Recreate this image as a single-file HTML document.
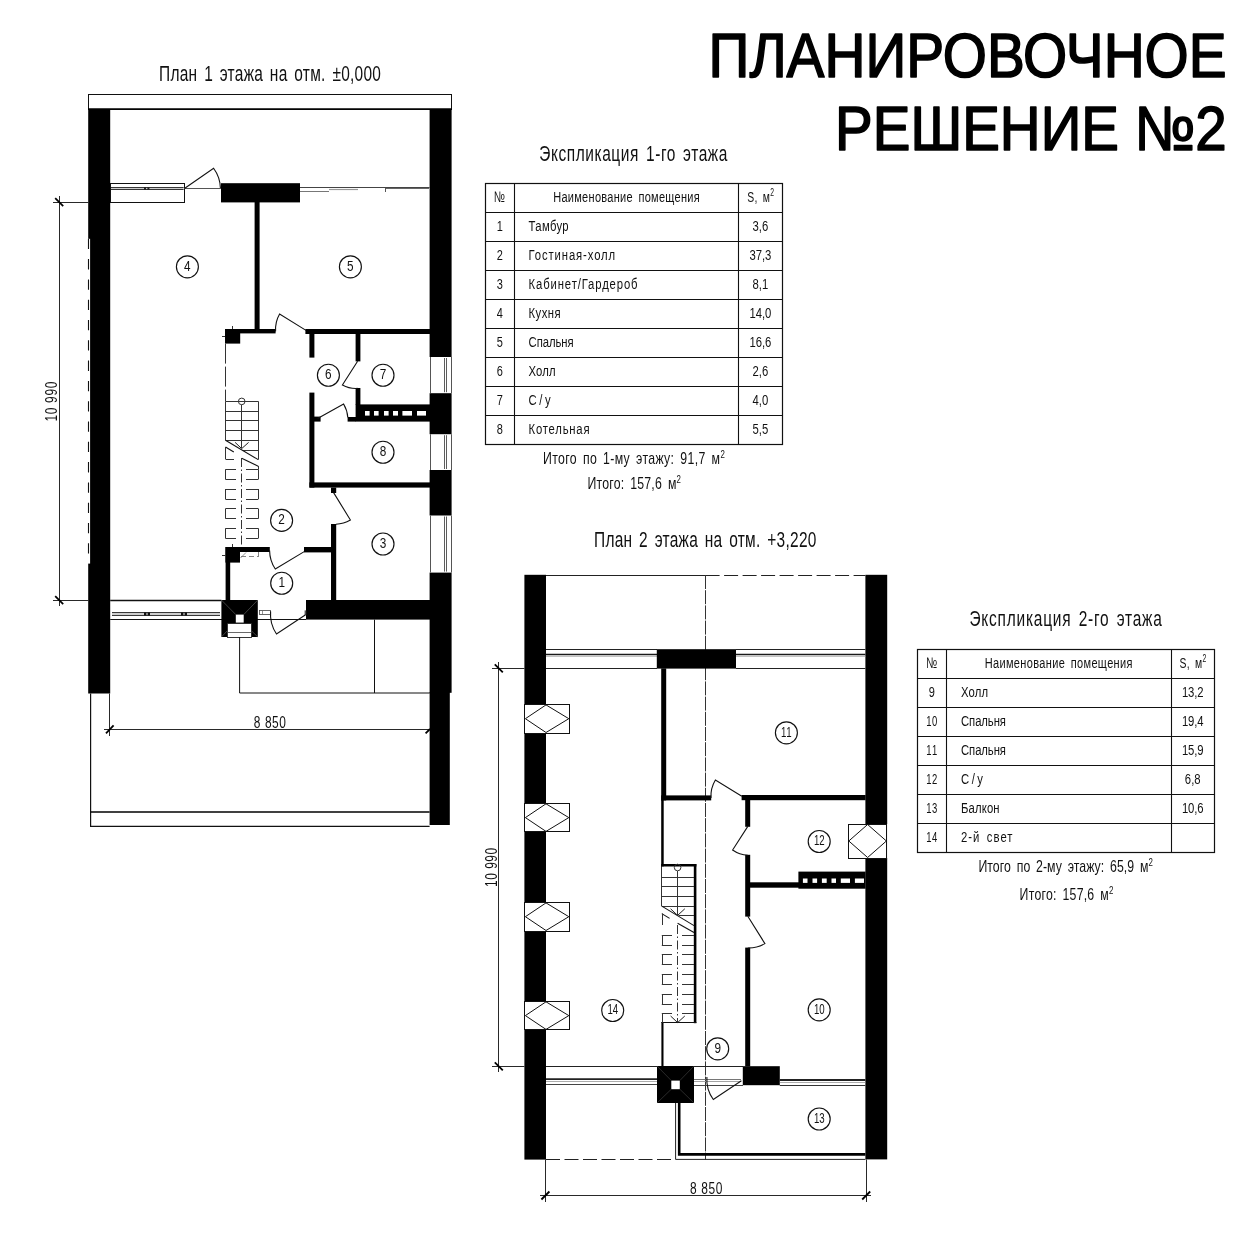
<!DOCTYPE html>
<html lang="ru"><head><meta charset="utf-8"><title>Планировочное решение №2</title>
<style>
html,body{margin:0;padding:0;background:#fff;}
body{width:1250px;height:1250px;overflow:hidden;}
svg{display:block;filter:grayscale(1);}
text{font-family:"Liberation Sans",sans-serif;fill:#111;}
.g{font-family:"Liberation Sans",sans-serif;fill:#111;word-spacing:3px;}
.rn{font-family:"Liberation Sans",sans-serif;fill:#111;}
.big{font-family:"Liberation Sans",sans-serif;fill:#000;stroke:#000;stroke-width:1.6px;stroke-linejoin:round;}
</style></head><body>
<svg width="1250" height="1250" viewBox="0 0 1250 1250" shape-rendering="auto">
<g opacity="0.999">
<rect width="1250" height="1250" fill="#fff"/>
<rect x="88.50" y="94.50" width="363.00" height="15.00" fill="#fff" stroke="#111" stroke-width="1"/>
<line x1="88.00" y1="109.00" x2="451.60" y2="109.00" stroke="#000" stroke-width="1.6"/>
<rect x="88.20" y="109.00" width="22.00" height="584.50" fill="#000" />
<rect x="87.50" y="238.80" width="2.60" height="324.80" fill="#fff" />
<line x1="88.50" y1="238.80" x2="88.50" y2="563.40" stroke="#111" stroke-width="1.1" stroke-dasharray="10.3 10"/>
<rect x="429.60" y="109.00" width="22.00" height="583.80" fill="#000" />
<rect x="429.60" y="692.00" width="20.20" height="133.00" fill="#000" />
<rect x="429.00" y="357.00" width="23.20" height="36.20" fill="#fff" />
<line x1="430.50" y1="357.00" x2="430.50" y2="393.20" stroke="#555" stroke-width="1"/>
<line x1="451.50" y1="357.00" x2="451.50" y2="393.20" stroke="#555" stroke-width="1"/>
<line x1="444.50" y1="358.00" x2="444.50" y2="392.20" stroke="#333" stroke-width="0.8"/>
<line x1="446.50" y1="358.00" x2="446.50" y2="392.20" stroke="#333" stroke-width="0.8"/>
<rect x="429.00" y="434.20" width="23.20" height="35.80" fill="#fff" />
<line x1="430.50" y1="434.20" x2="430.50" y2="470.00" stroke="#555" stroke-width="1"/>
<line x1="451.50" y1="434.20" x2="451.50" y2="470.00" stroke="#555" stroke-width="1"/>
<line x1="444.50" y1="435.20" x2="444.50" y2="469.00" stroke="#333" stroke-width="0.8"/>
<line x1="446.50" y1="435.20" x2="446.50" y2="469.00" stroke="#333" stroke-width="0.8"/>
<rect x="429.00" y="515.50" width="23.20" height="57.10" fill="#fff" />
<line x1="430.50" y1="515.50" x2="430.50" y2="572.60" stroke="#555" stroke-width="1"/>
<line x1="451.50" y1="515.50" x2="451.50" y2="572.60" stroke="#555" stroke-width="1"/>
<line x1="444.50" y1="516.50" x2="444.50" y2="571.60" stroke="#333" stroke-width="0.8"/>
<line x1="446.50" y1="516.50" x2="446.50" y2="571.60" stroke="#333" stroke-width="0.8"/>
<rect x="110.50" y="183.50" width="74.00" height="19.00" fill="#fff" stroke="#111" stroke-width="1"/>
<rect x="111.00" y="187.40" width="72.60" height="2.20" fill="#ccc" />
<line x1="111.00" y1="187.50" x2="183.60" y2="187.50" stroke="#222" stroke-width="0.9"/>
<line x1="111.00" y1="189.50" x2="183.60" y2="189.50" stroke="#222" stroke-width="0.9"/>
<rect x="144.00" y="187.00" width="2.00" height="3.00" fill="#222" />
<rect x="147.40" y="187.00" width="2.00" height="3.00" fill="#222" />
<line x1="184.50" y1="188.50" x2="221.00" y2="188.50" stroke="#555" stroke-width="1"/>
<path d="M184.80 188.20 L213.60 168.20 A35.33 35.33 0 0 1 220.40 188.00" fill="none" stroke="#111" stroke-width="1.1" stroke-linejoin="miter"/>
<rect x="221.00" y="183.20" width="79.00" height="19.20" fill="#000" />
<line x1="300.00" y1="187.50" x2="429.60" y2="187.50" stroke="#444" stroke-width="1.2"/>
<line x1="300.00" y1="191.50" x2="329.00" y2="191.50" stroke="#777" stroke-width="1"/>
<line x1="329.00" y1="189.50" x2="358.00" y2="189.50" stroke="#999" stroke-width="1.2"/>
<line x1="385.00" y1="188.50" x2="429.00" y2="188.50" stroke="#666" stroke-width="1.2"/>
<line x1="385.50" y1="188.00" x2="385.50" y2="192.00" stroke="#555" stroke-width="1"/>
<rect x="254.60" y="202.00" width="5.00" height="131.00" fill="#000" />
<rect x="225.00" y="329.00" width="15.20" height="14.60" fill="#000" />
<line x1="222.00" y1="336.50" x2="225.00" y2="336.50" stroke="#333" stroke-width="1"/>
<line x1="232.50" y1="326.00" x2="232.50" y2="329.00" stroke="#333" stroke-width="1"/>
<rect x="225.00" y="329.00" width="50.60" height="4.40" fill="#000" />
<path d="M306.00 330.40 L279.60 314.00 A30.75 30.75 0 0 0 275.60 331.40" fill="none" stroke="#111" stroke-width="1.1" stroke-linejoin="miter"/>
<rect x="305.40" y="329.00" width="124.60" height="5.00" fill="#000" />
<rect x="309.40" y="334.00" width="5.00" height="23.60" fill="#000" />
<rect x="309.40" y="392.60" width="5.00" height="95.00" fill="#000" />
<rect x="355.60" y="334.00" width="4.80" height="27.40" fill="#000" />
<rect x="355.60" y="388.00" width="4.80" height="17.00" fill="#000" />
<path d="M357.60 361.20 L342.40 385.00 A27.72 27.72 0 0 0 357.60 388.40" fill="none" stroke="#111" stroke-width="1.1" stroke-linejoin="miter"/>
<rect x="355.60" y="404.40" width="74.40" height="17.20" fill="#000" />
<rect x="347.60" y="417.00" width="8.40" height="4.60" fill="#000" />
<rect x="365.00" y="411.00" width="4.60" height="4.60" fill="#fff" />
<rect x="374.00" y="411.00" width="4.60" height="4.60" fill="#fff" />
<rect x="384.00" y="411.00" width="4.60" height="4.60" fill="#fff" />
<rect x="393.00" y="411.00" width="5.00" height="4.60" fill="#fff" />
<rect x="402.40" y="411.00" width="9.60" height="4.60" fill="#fff" />
<rect x="417.00" y="411.00" width="9.00" height="4.60" fill="#fff" />
<rect x="314.00" y="416.60" width="6.60" height="5.00" fill="#000" />
<path d="M317.60 418.60 L343.60 404.00 A30.02 30.02 0 0 1 347.80 417.40" fill="none" stroke="#111" stroke-width="1.1" stroke-linejoin="miter"/>
<rect x="309.40" y="482.40" width="120.60" height="5.20" fill="#000" />
<rect x="331.00" y="487.60" width="5.20" height="5.40" fill="#000" />
<path d="M333.60 492.60 L350.40 520.00 A31.92 31.92 0 0 1 336.00 524.20" fill="none" stroke="#111" stroke-width="1.1" stroke-linejoin="miter"/>
<rect x="331.00" y="524.00" width="5.20" height="76.40" fill="#000" />
<rect x="225.60" y="547.00" width="44.20" height="5.00" fill="#000" />
<rect x="304.00" y="547.00" width="27.40" height="5.40" fill="#000" />
<path d="M304.20 551.60 L275.30 569.00 A34.18 34.18 0 0 1 269.60 550.40" fill="none" stroke="#111" stroke-width="1.1" stroke-linejoin="miter"/>
<rect x="225.40" y="547.00" width="14.60" height="15.60" fill="#000" />
<line x1="222.00" y1="555.50" x2="225.40" y2="555.50" stroke="#333" stroke-width="1"/>
<line x1="232.50" y1="544.00" x2="232.50" y2="547.00" stroke="#333" stroke-width="1"/>
<rect x="225.60" y="552.00" width="4.60" height="48.40" fill="#000" />
<line x1="241.00" y1="556.50" x2="258.00" y2="556.50" stroke="#666" stroke-width="0.8" stroke-dasharray="5 3"/>
<line x1="258.50" y1="552.00" x2="258.50" y2="557.00" stroke="#666" stroke-width="0.8"/>
<path d="M240.5 558 L246 552.5" fill="none" stroke="#777" stroke-width="0.8" />
<rect x="306.00" y="600.00" width="124.00" height="19.60" fill="#000" />
<line x1="110.20" y1="600.50" x2="221.40" y2="600.50" stroke="#111" stroke-width="1.3"/>
<line x1="110.20" y1="619.50" x2="306.00" y2="619.50" stroke="#111" stroke-width="1.1"/>
<rect x="112.00" y="612.80" width="108.00" height="2.40" fill="#ccc" />
<line x1="112.00" y1="612.50" x2="220.00" y2="612.50" stroke="#222" stroke-width="0.9"/>
<line x1="112.00" y1="615.50" x2="220.00" y2="615.50" stroke="#222" stroke-width="0.9"/>
<rect x="144.00" y="612.40" width="2.40" height="3.20" fill="#111" />
<rect x="147.60" y="612.40" width="2.40" height="3.20" fill="#111" />
<rect x="181.00" y="612.40" width="2.40" height="3.20" fill="#111" />
<rect x="184.60" y="612.40" width="2.40" height="3.20" fill="#111" />
<rect x="221.40" y="600.00" width="36.40" height="37.00" fill="#000" />
<rect x="235.80" y="614.60" width="7.90" height="8.00" fill="#fff" />
<rect x="227.00" y="623.40" width="24.60" height="14.20" fill="#fff" />
<rect x="227.50" y="623.50" width="24.00" height="14.00" fill="none" stroke="#222" stroke-width="0.9"/>
<line x1="227.00" y1="632.50" x2="251.60" y2="632.50" stroke="#444" stroke-width="0.8"/>
<path d="M221.4 600 L235.8 614.6 M257.8 600 L243.7 614.6 M221.4 637 L227 631 M257.8 637 L251.6 631" fill="none" stroke="#666" stroke-width="0.6" />
<rect x="259.50" y="610.50" width="11.00" height="4.00" fill="#fff" stroke="#444" stroke-width="0.8"/>
<line x1="262.50" y1="610.60" x2="262.50" y2="614.80" stroke="#666" stroke-width="0.7"/>
<rect x="304.60" y="610.40" width="1.60" height="4.60" fill="#555" />
<path d="M305.60 614.80 L276.50 634.00 A35.01 35.01 0 0 1 270.60 611.40" fill="none" stroke="#111" stroke-width="1.1" stroke-linejoin="miter"/>
<path d="M239.6 637 L239.6 693 L429.8 693" fill="none" stroke="#111" stroke-width="1" />
<line x1="374.50" y1="619.60" x2="374.50" y2="693.00" stroke="#111" stroke-width="1"/>
<path d="M90.6 693.5 L90.6 826.4 L429.6 826.4" fill="none" stroke="#111" stroke-width="1.2" />
<line x1="90.60" y1="812.00" x2="429.60" y2="812.00" stroke="#000" stroke-width="1.4"/>
<line x1="109.50" y1="693.50" x2="109.50" y2="736.00" stroke="#111" stroke-width="0.9"/>
<line x1="104.00" y1="729.50" x2="429.60" y2="729.50" stroke="#111" stroke-width="0.9"/>
<line x1="106.00" y1="733.40" x2="113.60" y2="725.40" stroke="#000" stroke-width="1.8"/>
<line x1="425.60" y1="733.40" x2="430.00" y2="729.00" stroke="#000" stroke-width="1.8"/>
<text transform="translate(253.80 727.60) scale(0.72 1)" font-size="16.6" text-anchor="start" class="g" textLength="44.7" lengthAdjust="spacing" style="word-spacing:0px">8 850</text>
<line x1="59.50" y1="196.00" x2="59.50" y2="606.00" stroke="#111" stroke-width="0.9"/>
<line x1="53.00" y1="202.50" x2="88.20" y2="202.50" stroke="#111" stroke-width="0.9"/>
<line x1="53.00" y1="600.50" x2="88.20" y2="600.50" stroke="#111" stroke-width="0.9"/>
<line x1="55.20" y1="198.20" x2="63.20" y2="206.20" stroke="#000" stroke-width="1.8"/>
<line x1="55.20" y1="596.20" x2="63.20" y2="604.20" stroke="#000" stroke-width="1.8"/>
<text transform="translate(57.40 401.60) rotate(-90) scale(0.72 1)" font-size="16.6" text-anchor="middle" class="g" textLength="55.6" lengthAdjust="spacing" style="word-spacing:0px">10 990</text>
<line x1="225.50" y1="401.30" x2="225.50" y2="440.20" stroke="#333" stroke-width="1"/>
<line x1="258.50" y1="401.30" x2="258.50" y2="459.60" stroke="#333" stroke-width="1"/>
<line x1="225.50" y1="401.50" x2="258.20" y2="401.50" stroke="#333" stroke-width="1"/>
<line x1="225.50" y1="411.50" x2="258.20" y2="411.50" stroke="#333" stroke-width="1"/>
<line x1="225.50" y1="420.50" x2="258.20" y2="420.50" stroke="#333" stroke-width="1"/>
<line x1="225.50" y1="430.50" x2="258.20" y2="430.50" stroke="#333" stroke-width="1"/>
<line x1="225.50" y1="440.50" x2="258.20" y2="440.50" stroke="#333" stroke-width="1"/>
<line x1="242.70" y1="450.50" x2="258.20" y2="450.50" stroke="#333" stroke-width="1"/>
<line x1="225.50" y1="459.50" x2="234.00" y2="459.50" stroke="#333" stroke-width="1"/>
<line x1="225.50" y1="440.20" x2="258.20" y2="459.60" stroke="#111" stroke-width="1.1"/>
<line x1="225.50" y1="447.00" x2="233.80" y2="452.00" stroke="#111" stroke-width="1.1"/>
<line x1="241.70" y1="458.30" x2="258.20" y2="466.20" stroke="#111" stroke-width="1.1"/>
<line x1="241.50" y1="404.80" x2="241.50" y2="448.00" stroke="#333" stroke-width="1"/>
<circle cx="241.70" cy="401.40" r="3.3" fill="none" stroke="#333" stroke-width="1"/>
<path d="M235.1 442.4 L241.7 448.6 L248.6 442.4" fill="none" stroke="#222" stroke-width="1" />
<line x1="241.50" y1="458.00" x2="241.50" y2="547.00" stroke="#333" stroke-width="1" stroke-dasharray="9 2.5 1.5 2.5"/>
<line x1="225.50" y1="469.50" x2="236.00" y2="469.50" stroke="#333" stroke-width="1"/>
<line x1="246.00" y1="469.50" x2="258.20" y2="469.50" stroke="#333" stroke-width="1"/>
<line x1="225.50" y1="479.50" x2="236.00" y2="479.50" stroke="#333" stroke-width="1"/>
<line x1="246.00" y1="479.50" x2="258.20" y2="479.50" stroke="#333" stroke-width="1"/>
<line x1="225.50" y1="469.30" x2="225.50" y2="479.40" stroke="#333" stroke-width="1"/>
<line x1="258.50" y1="469.30" x2="258.50" y2="479.40" stroke="#333" stroke-width="1"/>
<line x1="225.50" y1="489.50" x2="236.00" y2="489.50" stroke="#333" stroke-width="1"/>
<line x1="246.00" y1="489.50" x2="258.20" y2="489.50" stroke="#333" stroke-width="1"/>
<line x1="225.50" y1="499.50" x2="236.00" y2="499.50" stroke="#333" stroke-width="1"/>
<line x1="246.00" y1="499.50" x2="258.20" y2="499.50" stroke="#333" stroke-width="1"/>
<line x1="225.50" y1="489.00" x2="225.50" y2="499.20" stroke="#333" stroke-width="1"/>
<line x1="258.50" y1="489.00" x2="258.50" y2="499.20" stroke="#333" stroke-width="1"/>
<line x1="225.50" y1="508.50" x2="236.00" y2="508.50" stroke="#333" stroke-width="1"/>
<line x1="246.00" y1="508.50" x2="258.20" y2="508.50" stroke="#333" stroke-width="1"/>
<line x1="225.50" y1="518.50" x2="236.00" y2="518.50" stroke="#333" stroke-width="1"/>
<line x1="246.00" y1="518.50" x2="258.20" y2="518.50" stroke="#333" stroke-width="1"/>
<line x1="225.50" y1="508.60" x2="225.50" y2="518.70" stroke="#333" stroke-width="1"/>
<line x1="258.50" y1="508.60" x2="258.50" y2="518.70" stroke="#333" stroke-width="1"/>
<line x1="225.50" y1="528.50" x2="236.00" y2="528.50" stroke="#333" stroke-width="1"/>
<line x1="246.00" y1="528.50" x2="258.20" y2="528.50" stroke="#333" stroke-width="1"/>
<line x1="225.50" y1="538.50" x2="236.00" y2="538.50" stroke="#333" stroke-width="1"/>
<line x1="246.00" y1="538.50" x2="258.20" y2="538.50" stroke="#333" stroke-width="1"/>
<line x1="225.50" y1="528.30" x2="225.50" y2="538.40" stroke="#333" stroke-width="1"/>
<line x1="258.50" y1="528.30" x2="258.50" y2="538.40" stroke="#333" stroke-width="1"/>
<line x1="225.50" y1="447.00" x2="225.50" y2="459.00" stroke="#333" stroke-width="1"/>
<line x1="258.50" y1="466.00" x2="258.50" y2="469.30" stroke="#333" stroke-width="1"/>
<line x1="225.50" y1="343.60" x2="225.50" y2="401.00" stroke="#333" stroke-width="1" stroke-dasharray="20 3"/>
<circle cx="187.40" cy="266.80" r="11.0" fill="#fff" stroke="#111" stroke-width="1.15"/>
<text transform="translate(187.40 270.50) scale(0.78 1)" font-size="15.1" text-anchor="middle" class="rn" textLength="8.2" lengthAdjust="spacing" >4</text>
<circle cx="350.40" cy="266.80" r="11.0" fill="#fff" stroke="#111" stroke-width="1.15"/>
<text transform="translate(350.40 270.50) scale(0.78 1)" font-size="15.1" text-anchor="middle" class="rn" textLength="8.2" lengthAdjust="spacing" >5</text>
<circle cx="328.40" cy="375.20" r="11.0" fill="#fff" stroke="#111" stroke-width="1.15"/>
<text transform="translate(328.40 378.90) scale(0.78 1)" font-size="15.1" text-anchor="middle" class="rn" textLength="8.2" lengthAdjust="spacing" >6</text>
<circle cx="383.00" cy="375.20" r="11.0" fill="#fff" stroke="#111" stroke-width="1.15"/>
<text transform="translate(383.00 378.90) scale(0.78 1)" font-size="15.1" text-anchor="middle" class="rn" textLength="8.2" lengthAdjust="spacing" >7</text>
<circle cx="383.00" cy="452.20" r="11.0" fill="#fff" stroke="#111" stroke-width="1.15"/>
<text transform="translate(383.00 455.90) scale(0.78 1)" font-size="15.1" text-anchor="middle" class="rn" textLength="8.2" lengthAdjust="spacing" >8</text>
<circle cx="281.60" cy="520.40" r="11.0" fill="#fff" stroke="#111" stroke-width="1.15"/>
<text transform="translate(281.60 524.10) scale(0.78 1)" font-size="15.1" text-anchor="middle" class="rn" textLength="8.2" lengthAdjust="spacing" >2</text>
<circle cx="383.00" cy="544.00" r="11.0" fill="#fff" stroke="#111" stroke-width="1.15"/>
<text transform="translate(383.00 547.70) scale(0.78 1)" font-size="15.1" text-anchor="middle" class="rn" textLength="8.2" lengthAdjust="spacing" >3</text>
<circle cx="281.70" cy="583.20" r="11.0" fill="#fff" stroke="#111" stroke-width="1.15"/>
<text transform="translate(281.70 586.90) scale(0.78 1)" font-size="15.1" text-anchor="middle" class="rn" textLength="8.2" lengthAdjust="spacing" >1</text>
<rect x="524.40" y="574.80" width="21.60" height="584.80" fill="#000" />
<rect x="865.40" y="574.80" width="21.80" height="584.60" fill="#000" />
<line x1="546.00" y1="575.50" x2="705.60" y2="575.50" stroke="#222" stroke-width="1"/>
<line x1="705.60" y1="575.50" x2="865.40" y2="575.50" stroke="#222" stroke-width="1" stroke-dasharray="14 4.5"/>
<line x1="705.50" y1="575.00" x2="705.50" y2="1159.50" stroke="#333" stroke-width="1" stroke-dasharray="14 1.2"/>
<rect x="523.80" y="704.40" width="22.80" height="28.60" fill="#fff" />
<rect x="524.50" y="704.50" width="45.00" height="29.00" fill="#fff" stroke="#111" stroke-width="1"/>
<path d="M525.4 718.70 L546 704.90 L568.8 718.70 L546 732.50 Z" fill="none" stroke="#111" stroke-width="1" />
<rect x="523.80" y="803.30" width="22.80" height="28.60" fill="#fff" />
<rect x="524.50" y="803.50" width="45.00" height="28.00" fill="#fff" stroke="#111" stroke-width="1"/>
<path d="M525.4 817.60 L546 803.80 L568.8 817.60 L546 831.40 Z" fill="none" stroke="#111" stroke-width="1" />
<rect x="523.80" y="902.40" width="22.80" height="28.60" fill="#fff" />
<rect x="524.50" y="902.50" width="45.00" height="29.00" fill="#fff" stroke="#111" stroke-width="1"/>
<path d="M525.4 916.70 L546 902.90 L568.8 916.70 L546 930.50 Z" fill="none" stroke="#111" stroke-width="1" />
<rect x="523.80" y="1001.30" width="22.80" height="28.60" fill="#fff" />
<rect x="524.50" y="1001.50" width="45.00" height="28.00" fill="#fff" stroke="#111" stroke-width="1"/>
<path d="M525.4 1015.60 L546 1001.80 L568.8 1015.60 L546 1029.40 Z" fill="none" stroke="#111" stroke-width="1" />
<rect x="864.80" y="824.00" width="23.00" height="34.00" fill="#fff" />
<rect x="848.50" y="824.50" width="38.00" height="34.00" fill="#fff" stroke="#111" stroke-width="1"/>
<path d="M848.8 841 L867.6 824.5 L886.4 841 L867.6 857.5 Z" fill="none" stroke="#111" stroke-width="1" />
<line x1="546.00" y1="649.50" x2="657.00" y2="649.50" stroke="#222" stroke-width="1"/>
<line x1="546.00" y1="668.50" x2="657.00" y2="668.50" stroke="#222" stroke-width="1"/>
<line x1="546.00" y1="654.50" x2="657.00" y2="654.50" stroke="#1a1a1a" stroke-width="1.7"/>
<line x1="546.00" y1="656.50" x2="657.00" y2="656.50" stroke="#999" stroke-width="0.6"/>
<line x1="736.00" y1="649.50" x2="865.40" y2="649.50" stroke="#222" stroke-width="1"/>
<line x1="736.00" y1="668.50" x2="865.40" y2="668.50" stroke="#222" stroke-width="1"/>
<line x1="736.00" y1="654.50" x2="865.40" y2="654.50" stroke="#1a1a1a" stroke-width="1.7"/>
<line x1="736.00" y1="656.50" x2="865.40" y2="656.50" stroke="#999" stroke-width="0.6"/>
<rect x="656.80" y="649.20" width="79.20" height="19.40" fill="#000" />
<rect x="661.20" y="668.40" width="5.00" height="132.00" fill="#000" />
<rect x="661.20" y="795.40" width="50.00" height="5.00" fill="#000" />
<path d="M741.80 796.20 L715.40 780.00 A30.91 30.91 0 0 0 711.00 798.00" fill="none" stroke="#111" stroke-width="1.1" stroke-linejoin="miter"/>
<rect x="741.60" y="795.00" width="124.00" height="5.20" fill="#000" />
<rect x="661.20" y="800.00" width="2.50" height="66.40" fill="#000" />
<rect x="661.40" y="1022.40" width="2.10" height="44.00" fill="#000" />
<line x1="661.50" y1="866.00" x2="661.50" y2="906.10" stroke="#333" stroke-width="1"/>
<rect x="661.20" y="864.00" width="35.20" height="2.50" fill="#000" />
<rect x="693.80" y="864.00" width="2.60" height="159.20" fill="#000" />
<line x1="661.20" y1="1022.50" x2="696.40" y2="1022.50" stroke="#111" stroke-width="1.2"/>
<rect x="745.20" y="800.00" width="5.00" height="26.80" fill="#000" />
<rect x="745.20" y="854.80" width="5.00" height="61.80" fill="#000" />
<rect x="745.20" y="947.60" width="5.00" height="118.80" fill="#000" />
<path d="M747.80 826.40 L732.60 850.00 A28.44 28.44 0 0 0 747.80 855.20" fill="none" stroke="#111" stroke-width="1.1" stroke-linejoin="miter"/>
<path d="M747.80 916.20 L764.90 943.60 A32.05 32.05 0 0 1 747.80 948.00" fill="none" stroke="#111" stroke-width="1.1" stroke-linejoin="miter"/>
<rect x="750.00" y="882.30" width="49.00" height="5.40" fill="#000" />
<rect x="798.40" y="871.60" width="67.20" height="17.10" fill="#000" />
<rect x="802.90" y="878.50" width="4.60" height="4.40" fill="#fff" />
<rect x="812.50" y="878.50" width="4.60" height="4.40" fill="#fff" />
<rect x="821.90" y="878.50" width="4.80" height="4.40" fill="#fff" />
<rect x="831.50" y="878.50" width="4.50" height="4.40" fill="#fff" />
<rect x="840.80" y="878.50" width="9.20" height="4.40" fill="#fff" />
<rect x="854.90" y="878.50" width="9.10" height="4.40" fill="#fff" />
<line x1="546.00" y1="1066.50" x2="657.00" y2="1066.50" stroke="#222" stroke-width="1"/>
<line x1="546.00" y1="1079.20" x2="657.00" y2="1079.20" stroke="#222" stroke-width="1.8"/>
<line x1="546.00" y1="1081.50" x2="657.00" y2="1081.50" stroke="#888" stroke-width="0.7"/>
<line x1="546.00" y1="1084.50" x2="657.00" y2="1084.50" stroke="#444" stroke-width="1"/>
<rect x="657.00" y="1066.00" width="37.00" height="37.00" fill="#000" />
<rect x="671.30" y="1080.60" width="8.50" height="8.60" fill="#fff" />
<path d="M657 1066 L671.3 1080.6 M694 1066 L679.8 1080.6 M657 1103 L671.3 1089.2 M694 1103 L679.8 1089.2" fill="none" stroke="#555" stroke-width="0.5" />
<line x1="694.00" y1="1066.50" x2="743.00" y2="1066.50" stroke="#222" stroke-width="1"/>
<line x1="694.00" y1="1079.50" x2="741.00" y2="1079.50" stroke="#666" stroke-width="0.9"/>
<line x1="694.00" y1="1081.50" x2="741.00" y2="1081.50" stroke="#999" stroke-width="0.9"/>
<line x1="694.00" y1="1085.50" x2="743.00" y2="1085.50" stroke="#444" stroke-width="1"/>
<path d="M741.40 1080.80 L713.30 1099.50 A34.23 34.23 0 0 1 706.90 1077.00" fill="none" stroke="#111" stroke-width="1.1" stroke-linejoin="miter"/>
<rect x="742.80" y="1066.20" width="37.00" height="19.00" fill="#000" />
<line x1="779.80" y1="1080.00" x2="865.40" y2="1080.00" stroke="#222" stroke-width="1.8"/>
<line x1="779.80" y1="1082.50" x2="865.40" y2="1082.50" stroke="#888" stroke-width="0.7"/>
<line x1="779.80" y1="1085.50" x2="865.40" y2="1085.50" stroke="#333" stroke-width="1"/>
<path d="M675.6 1103 L675.6 1159.4 L865.4 1159.4" fill="none" stroke="#222" stroke-width="1" />
<path d="M679.2 1103 L679.2 1154.4 L865.4 1154.4" fill="none" stroke="#000" stroke-width="2.6" />
<line x1="546.00" y1="1159.50" x2="675.60" y2="1159.50" stroke="#222" stroke-width="1" stroke-dasharray="14 4.5"/>
<line x1="545.50" y1="1159.50" x2="545.50" y2="1202.00" stroke="#111" stroke-width="0.9"/>
<line x1="866.50" y1="1159.50" x2="866.50" y2="1202.00" stroke="#111" stroke-width="0.9"/>
<line x1="540.00" y1="1195.50" x2="871.00" y2="1195.50" stroke="#111" stroke-width="0.9"/>
<line x1="541.40" y1="1199.50" x2="549.40" y2="1191.50" stroke="#000" stroke-width="1.8"/>
<line x1="862.20" y1="1199.50" x2="870.20" y2="1191.50" stroke="#000" stroke-width="1.8"/>
<text transform="translate(690.00 1193.50) scale(0.72 1)" font-size="16.6" text-anchor="start" class="g" textLength="45.0" lengthAdjust="spacing" style="word-spacing:0px">8 850</text>
<line x1="498.50" y1="662.00" x2="498.50" y2="1072.00" stroke="#111" stroke-width="0.9"/>
<line x1="492.00" y1="668.50" x2="524.40" y2="668.50" stroke="#111" stroke-width="0.9"/>
<line x1="492.00" y1="1066.50" x2="524.40" y2="1066.50" stroke="#111" stroke-width="0.9"/>
<line x1="494.80" y1="664.40" x2="502.80" y2="672.40" stroke="#000" stroke-width="1.8"/>
<line x1="494.80" y1="1062.30" x2="502.80" y2="1070.30" stroke="#000" stroke-width="1.8"/>
<text transform="translate(497.00 867.40) rotate(-90) scale(0.72 1)" font-size="16.6" text-anchor="middle" class="g" textLength="54.2" lengthAdjust="spacing" style="word-spacing:0px">10 990</text>
<line x1="661.80" y1="877.50" x2="694.00" y2="877.50" stroke="#333" stroke-width="1"/>
<line x1="661.80" y1="886.50" x2="694.00" y2="886.50" stroke="#333" stroke-width="1"/>
<line x1="661.80" y1="896.50" x2="694.00" y2="896.50" stroke="#333" stroke-width="1"/>
<line x1="661.80" y1="906.50" x2="694.00" y2="906.50" stroke="#333" stroke-width="1"/>
<line x1="678.60" y1="915.50" x2="694.00" y2="915.50" stroke="#333" stroke-width="1"/>
<line x1="661.80" y1="906.10" x2="694.00" y2="925.60" stroke="#111" stroke-width="1.1"/>
<line x1="661.80" y1="913.60" x2="669.60" y2="918.40" stroke="#111" stroke-width="1.1"/>
<line x1="677.60" y1="923.20" x2="694.00" y2="932.50" stroke="#111" stroke-width="1.1"/>
<line x1="677.50" y1="871.00" x2="677.50" y2="915.00" stroke="#333" stroke-width="1"/>
<circle cx="677.60" cy="867.50" r="3.3" fill="none" stroke="#333" stroke-width="1"/>
<path d="M670.6 908.8 L677.6 915.4 L684.8 908.8" fill="none" stroke="#222" stroke-width="1" />
<line x1="677.50" y1="925.00" x2="677.50" y2="1022.00" stroke="#333" stroke-width="1" stroke-dasharray="9 2.5 1.5 2.5"/>
<path d="M670.6 1016 L677.6 1022.6 L684.8 1016" fill="none" stroke="#222" stroke-width="1" />
<line x1="661.80" y1="935.50" x2="672.00" y2="935.50" stroke="#333" stroke-width="1"/>
<line x1="682.00" y1="935.50" x2="694.00" y2="935.50" stroke="#333" stroke-width="1"/>
<line x1="661.80" y1="945.50" x2="672.00" y2="945.50" stroke="#333" stroke-width="1"/>
<line x1="682.00" y1="945.50" x2="694.00" y2="945.50" stroke="#333" stroke-width="1"/>
<line x1="662.50" y1="935.20" x2="662.50" y2="945.10" stroke="#333" stroke-width="1"/>
<line x1="661.80" y1="954.50" x2="672.00" y2="954.50" stroke="#333" stroke-width="1"/>
<line x1="682.00" y1="954.50" x2="694.00" y2="954.50" stroke="#333" stroke-width="1"/>
<line x1="661.80" y1="964.50" x2="672.00" y2="964.50" stroke="#333" stroke-width="1"/>
<line x1="682.00" y1="964.50" x2="694.00" y2="964.50" stroke="#333" stroke-width="1"/>
<line x1="662.50" y1="954.70" x2="662.50" y2="964.50" stroke="#333" stroke-width="1"/>
<line x1="661.80" y1="974.50" x2="672.00" y2="974.50" stroke="#333" stroke-width="1"/>
<line x1="682.00" y1="974.50" x2="694.00" y2="974.50" stroke="#333" stroke-width="1"/>
<line x1="661.80" y1="984.50" x2="672.00" y2="984.50" stroke="#333" stroke-width="1"/>
<line x1="682.00" y1="984.50" x2="694.00" y2="984.50" stroke="#333" stroke-width="1"/>
<line x1="662.50" y1="974.40" x2="662.50" y2="984.00" stroke="#333" stroke-width="1"/>
<line x1="661.80" y1="994.50" x2="672.00" y2="994.50" stroke="#333" stroke-width="1"/>
<line x1="682.00" y1="994.50" x2="694.00" y2="994.50" stroke="#333" stroke-width="1"/>
<line x1="661.80" y1="1004.50" x2="672.00" y2="1004.50" stroke="#333" stroke-width="1"/>
<line x1="682.00" y1="1004.50" x2="694.00" y2="1004.50" stroke="#333" stroke-width="1"/>
<line x1="662.50" y1="994.00" x2="662.50" y2="1004.00" stroke="#333" stroke-width="1"/>
<line x1="661.80" y1="1013.50" x2="672.00" y2="1013.50" stroke="#333" stroke-width="1"/>
<line x1="682.00" y1="1013.50" x2="694.00" y2="1013.50" stroke="#333" stroke-width="1"/>
<line x1="662.50" y1="1013.60" x2="662.50" y2="1022.60" stroke="#333" stroke-width="1"/>
<line x1="662.50" y1="913.60" x2="662.50" y2="925.00" stroke="#333" stroke-width="1"/>
<circle cx="786.40" cy="732.80" r="11.0" fill="#fff" stroke="#111" stroke-width="1.15"/>
<text transform="translate(786.40 736.50) scale(0.64 1)" font-size="15.1" text-anchor="middle" class="rn" textLength="16.6" lengthAdjust="spacing" >11</text>
<circle cx="819.20" cy="841.50" r="11.0" fill="#fff" stroke="#111" stroke-width="1.15"/>
<text transform="translate(819.20 845.20) scale(0.64 1)" font-size="15.1" text-anchor="middle" class="rn" textLength="16.6" lengthAdjust="spacing" >12</text>
<circle cx="612.70" cy="1010.50" r="11.0" fill="#fff" stroke="#111" stroke-width="1.15"/>
<text transform="translate(612.70 1014.20) scale(0.64 1)" font-size="15.1" text-anchor="middle" class="rn" textLength="16.6" lengthAdjust="spacing" >14</text>
<circle cx="717.70" cy="1048.80" r="11.0" fill="#fff" stroke="#111" stroke-width="1.15"/>
<text transform="translate(717.70 1052.50) scale(0.78 1)" font-size="15.1" text-anchor="middle" class="rn" textLength="8.2" lengthAdjust="spacing" >9</text>
<circle cx="819.20" cy="1009.90" r="11.0" fill="#fff" stroke="#111" stroke-width="1.15"/>
<text transform="translate(819.20 1013.60) scale(0.64 1)" font-size="15.1" text-anchor="middle" class="rn" textLength="16.6" lengthAdjust="spacing" >10</text>
<circle cx="819.20" cy="1119.00" r="11.0" fill="#fff" stroke="#111" stroke-width="1.15"/>
<text transform="translate(819.20 1122.70) scale(0.64 1)" font-size="15.1" text-anchor="middle" class="rn" textLength="16.6" lengthAdjust="spacing" >13</text>
<text transform="translate(159.00 81.00) scale(0.72 1)" font-size="21.5" text-anchor="start" class="g" textLength="308.3" lengthAdjust="spacing" >План 1 этажа на отм. ±0,000</text>
<text transform="translate(594.00 546.80) scale(0.72 1)" font-size="21.5" text-anchor="start" class="g" textLength="308.9" lengthAdjust="spacing" >План 2 этажа на отм. +3,220</text>
<text transform="translate(539.20 160.80) scale(0.72 1)" font-size="21.5" text-anchor="start" class="g" textLength="261.4" lengthAdjust="spacing" >Экспликация 1-го этажа</text>
<text transform="translate(969.40 626.00) scale(0.72 1)" font-size="21.5" text-anchor="start" class="g" textLength="267.2" lengthAdjust="spacing" >Экспликация 2-го этажа</text>
<rect x="485.50" y="183.50" width="297.00" height="261.00" fill="#fff" stroke="#111" stroke-width="1.2"/>
<line x1="514.50" y1="183.60" x2="514.50" y2="444.42" stroke="#111" stroke-width="1.1"/>
<line x1="738.50" y1="183.60" x2="738.50" y2="444.42" stroke="#111" stroke-width="1.1"/>
<line x1="485.00" y1="212.50" x2="782.30" y2="212.50" stroke="#111" stroke-width="1.1"/>
<line x1="485.00" y1="241.50" x2="782.30" y2="241.50" stroke="#111" stroke-width="1.1"/>
<line x1="485.00" y1="270.50" x2="782.30" y2="270.50" stroke="#111" stroke-width="1.1"/>
<line x1="485.00" y1="299.50" x2="782.30" y2="299.50" stroke="#111" stroke-width="1.1"/>
<line x1="485.00" y1="328.50" x2="782.30" y2="328.50" stroke="#111" stroke-width="1.1"/>
<line x1="485.00" y1="357.50" x2="782.30" y2="357.50" stroke="#111" stroke-width="1.1"/>
<line x1="485.00" y1="386.50" x2="782.30" y2="386.50" stroke="#111" stroke-width="1.1"/>
<line x1="485.00" y1="415.50" x2="782.30" y2="415.50" stroke="#111" stroke-width="1.1"/>
<text transform="translate(499.70 201.70) scale(0.68 1)" font-size="15.3" text-anchor="middle" class="g" textLength="16.5" lengthAdjust="spacing" >№</text>
<text transform="translate(626.45 201.70) scale(0.72 1)" font-size="15.3" text-anchor="middle" class="g" textLength="203.6" lengthAdjust="spacing" >Наименование помещения</text>
<text transform="translate(760.60 201.70) scale(0.68 1)" font-size="15.3" text-anchor="middle" class="g" textLength="39.4" lengthAdjust="spacing" >S, м<tspan dy="-6" font-size="10">2</tspan></text>
<text transform="translate(499.70 230.68) scale(0.72 1)" font-size="15.3" text-anchor="middle" class="g" textLength="8.1" lengthAdjust="spacing" >1</text>
<text transform="translate(528.60 230.68) scale(0.74 1)" font-size="15.3" text-anchor="start" class="g" textLength="54.1" lengthAdjust="spacing" >Тамбур</text>
<text transform="translate(760.40 230.68) scale(0.74 1)" font-size="15.3" text-anchor="middle" class="g" textLength="21.4" lengthAdjust="spacing" >3,6</text>
<text transform="translate(499.70 259.66) scale(0.72 1)" font-size="15.3" text-anchor="middle" class="g" textLength="8.1" lengthAdjust="spacing" >2</text>
<text transform="translate(528.60 259.66) scale(0.74 1)" font-size="15.3" text-anchor="start" class="g" textLength="117.0" lengthAdjust="spacing" >Гостиная-холл</text>
<text transform="translate(760.40 259.66) scale(0.74 1)" font-size="15.3" text-anchor="middle" class="g" textLength="29.2" lengthAdjust="spacing" >37,3</text>
<text transform="translate(499.70 288.64) scale(0.72 1)" font-size="15.3" text-anchor="middle" class="g" textLength="8.1" lengthAdjust="spacing" >3</text>
<text transform="translate(528.60 288.64) scale(0.74 1)" font-size="15.3" text-anchor="start" class="g" textLength="147.3" lengthAdjust="spacing" >Кабинет/Гардероб</text>
<text transform="translate(760.40 288.64) scale(0.74 1)" font-size="15.3" text-anchor="middle" class="g" textLength="21.4" lengthAdjust="spacing" >8,1</text>
<text transform="translate(499.70 317.62) scale(0.72 1)" font-size="15.3" text-anchor="middle" class="g" textLength="8.1" lengthAdjust="spacing" >4</text>
<text transform="translate(528.60 317.62) scale(0.74 1)" font-size="15.3" text-anchor="start" class="g" textLength="43.2" lengthAdjust="spacing" >Кухня</text>
<text transform="translate(760.40 317.62) scale(0.74 1)" font-size="15.3" text-anchor="middle" class="g" textLength="29.2" lengthAdjust="spacing" >14,0</text>
<text transform="translate(499.70 346.60) scale(0.72 1)" font-size="15.3" text-anchor="middle" class="g" textLength="8.1" lengthAdjust="spacing" >5</text>
<text transform="translate(528.60 346.60) scale(0.74 1)" font-size="15.3" text-anchor="start" class="g" textLength="60.8" lengthAdjust="spacing" >Спальня</text>
<text transform="translate(760.40 346.60) scale(0.74 1)" font-size="15.3" text-anchor="middle" class="g" textLength="29.2" lengthAdjust="spacing" >16,6</text>
<text transform="translate(499.70 375.58) scale(0.72 1)" font-size="15.3" text-anchor="middle" class="g" textLength="8.1" lengthAdjust="spacing" >6</text>
<text transform="translate(528.60 375.58) scale(0.74 1)" font-size="15.3" text-anchor="start" class="g" textLength="36.5" lengthAdjust="spacing" >Холл</text>
<text transform="translate(760.40 375.58) scale(0.74 1)" font-size="15.3" text-anchor="middle" class="g" textLength="21.4" lengthAdjust="spacing" >2,6</text>
<text transform="translate(499.70 404.56) scale(0.72 1)" font-size="15.3" text-anchor="middle" class="g" textLength="8.1" lengthAdjust="spacing" >7</text>
<text transform="translate(528.60 404.56) scale(0.74 1)" font-size="15.3" text-anchor="start" class="g" textLength="29.7" lengthAdjust="spacing" >С/у</text>
<text transform="translate(760.40 404.56) scale(0.74 1)" font-size="15.3" text-anchor="middle" class="g" textLength="21.4" lengthAdjust="spacing" >4,0</text>
<text transform="translate(499.70 433.54) scale(0.72 1)" font-size="15.3" text-anchor="middle" class="g" textLength="8.1" lengthAdjust="spacing" >8</text>
<text transform="translate(528.60 433.54) scale(0.74 1)" font-size="15.3" text-anchor="start" class="g" textLength="82.4" lengthAdjust="spacing" >Котельная</text>
<text transform="translate(760.40 433.54) scale(0.74 1)" font-size="15.3" text-anchor="middle" class="g" textLength="21.4" lengthAdjust="spacing" >5,5</text>
<rect x="917.50" y="649.50" width="297.00" height="203.00" fill="#fff" stroke="#111" stroke-width="1.2"/>
<line x1="946.50" y1="649.40" x2="946.50" y2="852.40" stroke="#111" stroke-width="1.1"/>
<line x1="1171.50" y1="649.40" x2="1171.50" y2="852.40" stroke="#111" stroke-width="1.1"/>
<line x1="917.40" y1="678.50" x2="1214.40" y2="678.50" stroke="#111" stroke-width="1.1"/>
<line x1="917.40" y1="707.50" x2="1214.40" y2="707.50" stroke="#111" stroke-width="1.1"/>
<line x1="917.40" y1="736.50" x2="1214.40" y2="736.50" stroke="#111" stroke-width="1.1"/>
<line x1="917.40" y1="765.50" x2="1214.40" y2="765.50" stroke="#111" stroke-width="1.1"/>
<line x1="917.40" y1="794.50" x2="1214.40" y2="794.50" stroke="#111" stroke-width="1.1"/>
<line x1="917.40" y1="823.50" x2="1214.40" y2="823.50" stroke="#111" stroke-width="1.1"/>
<text transform="translate(931.80 667.50) scale(0.68 1)" font-size="15.3" text-anchor="middle" class="g" textLength="16.5" lengthAdjust="spacing" >№</text>
<text transform="translate(1058.60 667.50) scale(0.72 1)" font-size="15.3" text-anchor="middle" class="g" textLength="205.3" lengthAdjust="spacing" >Наименование помещения</text>
<text transform="translate(1192.90 667.50) scale(0.68 1)" font-size="15.3" text-anchor="middle" class="g" textLength="39.4" lengthAdjust="spacing" >S, м<tspan dy="-6" font-size="10">2</tspan></text>
<text transform="translate(931.80 696.50) scale(0.72 1)" font-size="15.3" text-anchor="middle" class="g" textLength="8.1" lengthAdjust="spacing" >9</text>
<text transform="translate(961.00 696.50) scale(0.74 1)" font-size="15.3" text-anchor="start" class="g" textLength="36.5" lengthAdjust="spacing" >Холл</text>
<text transform="translate(1192.70 696.50) scale(0.74 1)" font-size="15.3" text-anchor="middle" class="g" textLength="29.2" lengthAdjust="spacing" >13,2</text>
<text transform="translate(931.80 725.50) scale(0.62 1)" font-size="15.3" text-anchor="middle" class="g" textLength="17.7" lengthAdjust="spacing" >10</text>
<text transform="translate(961.00 725.50) scale(0.74 1)" font-size="15.3" text-anchor="start" class="g" textLength="60.8" lengthAdjust="spacing" >Спальня</text>
<text transform="translate(1192.70 725.50) scale(0.74 1)" font-size="15.3" text-anchor="middle" class="g" textLength="29.2" lengthAdjust="spacing" >19,4</text>
<text transform="translate(931.80 754.50) scale(0.62 1)" font-size="15.3" text-anchor="middle" class="g" textLength="17.7" lengthAdjust="spacing" >11</text>
<text transform="translate(961.00 754.50) scale(0.74 1)" font-size="15.3" text-anchor="start" class="g" textLength="60.8" lengthAdjust="spacing" >Спальня</text>
<text transform="translate(1192.70 754.50) scale(0.74 1)" font-size="15.3" text-anchor="middle" class="g" textLength="29.2" lengthAdjust="spacing" >15,9</text>
<text transform="translate(931.80 783.50) scale(0.62 1)" font-size="15.3" text-anchor="middle" class="g" textLength="17.7" lengthAdjust="spacing" >12</text>
<text transform="translate(961.00 783.50) scale(0.74 1)" font-size="15.3" text-anchor="start" class="g" textLength="29.7" lengthAdjust="spacing" >С/у</text>
<text transform="translate(1192.70 783.50) scale(0.74 1)" font-size="15.3" text-anchor="middle" class="g" textLength="21.4" lengthAdjust="spacing" >6,8</text>
<text transform="translate(931.80 812.50) scale(0.62 1)" font-size="15.3" text-anchor="middle" class="g" textLength="17.7" lengthAdjust="spacing" >13</text>
<text transform="translate(961.00 812.50) scale(0.74 1)" font-size="15.3" text-anchor="start" class="g" textLength="52.2" lengthAdjust="spacing" >Балкон</text>
<text transform="translate(1192.70 812.50) scale(0.74 1)" font-size="15.3" text-anchor="middle" class="g" textLength="29.2" lengthAdjust="spacing" >10,6</text>
<text transform="translate(931.80 841.50) scale(0.62 1)" font-size="15.3" text-anchor="middle" class="g" textLength="17.7" lengthAdjust="spacing" >14</text>
<text transform="translate(961.00 841.50) scale(0.74 1)" font-size="15.3" text-anchor="start" class="g" textLength="69.6" lengthAdjust="spacing" >2-й свет</text>
<text transform="translate(543.00 463.70) scale(0.76 1)" font-size="16.2" text-anchor="start" class="g" textLength="239.2" lengthAdjust="spacing" >Итого по 1-му этажу: 91,7 м<tspan dy="-5.5" font-size="10.4">2</tspan></text>
<text transform="translate(587.50 488.70) scale(0.76 1)" font-size="16.2" text-anchor="start" class="g" textLength="123.0" lengthAdjust="spacing" >Итого: 157,6 м<tspan dy="-5.5" font-size="10.4">2</tspan></text>
<text transform="translate(978.40 871.50) scale(0.76 1)" font-size="16.2" text-anchor="start" class="g" textLength="229.5" lengthAdjust="spacing" >Итого по 2-му этажу: 65,9 м<tspan dy="-5.5" font-size="10.4">2</tspan></text>
<text transform="translate(1019.60 899.50) scale(0.76 1)" font-size="16.2" text-anchor="start" class="g" textLength="123.4" lengthAdjust="spacing" >Итого: 157,6 м<tspan dy="-5.5" font-size="10.4">2</tspan></text>
<text x="1226.60" y="76.60" font-size="62.5" text-anchor="end" class="big" textLength="518.0" lengthAdjust="spacingAndGlyphs" >ПЛАНИРОВОЧНОЕ</text>
<text x="1226.60" y="149.60" font-size="62.5" text-anchor="end" class="big" textLength="391.5" lengthAdjust="spacingAndGlyphs" >РЕШЕНИЕ №2</text>
</g>
</svg>
</body></html>
